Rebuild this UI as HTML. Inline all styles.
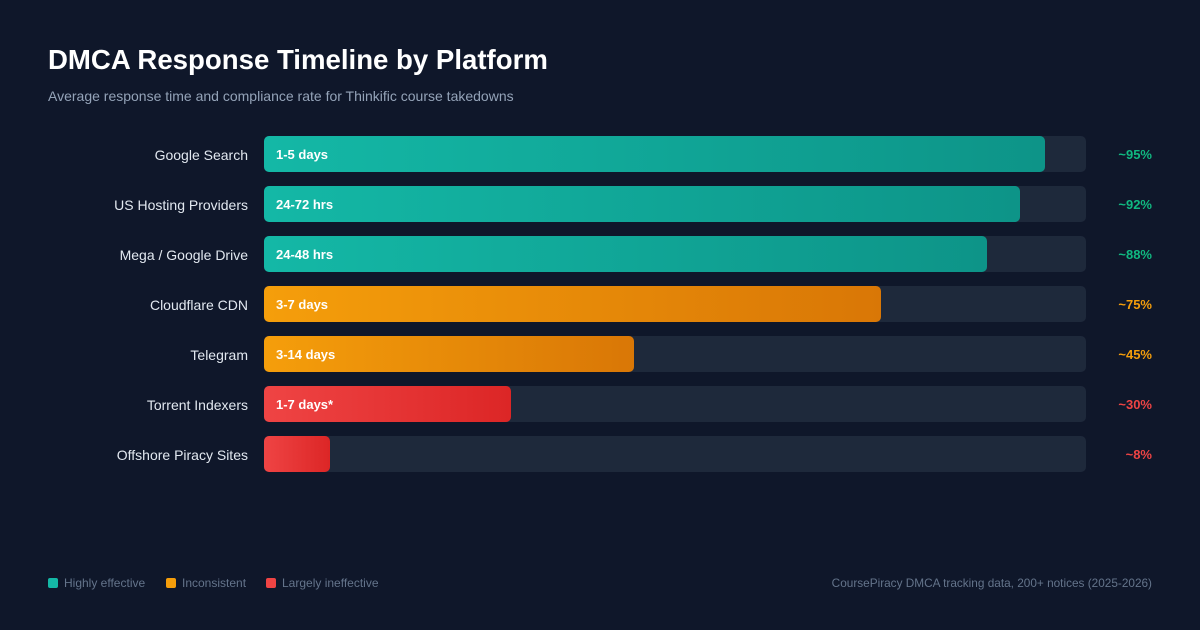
<!DOCTYPE html>
<html><head><meta charset="utf-8"><style>
body{margin:0;width:1200px;height:630px;background:#0f172a;font-family:"Liberation Sans",sans-serif;position:relative;overflow:hidden}
.t{position:absolute;left:48px;top:44px;font-size:27.6px;font-weight:bold;color:#fff}
.s{position:absolute;left:48px;top:88px;font-size:14px;color:#94a3b8}
.row{position:absolute;left:0;width:1200px;height:36px}
.lab{position:absolute;right:952px;top:1px;line-height:36px;font-size:14px;color:#e2e8f0;white-space:nowrap}
.trk{position:absolute;left:264px;width:822px;height:36px;background:#1e293b;border-radius:5px}
.bar{position:absolute;left:0;top:0;height:36px;border-radius:5px;color:#fff;font-weight:bold;font-size:13px;line-height:38px;padding-left:12px;box-sizing:border-box}
.g{background:linear-gradient(90deg,#14b8a6,#0d9488)}
.o{background:linear-gradient(90deg,#f59e0b,#d97706)}
.r{background:linear-gradient(90deg,#ef4444,#dc2626)}
.pct{position:absolute;right:48px;top:1px;line-height:36px;font-size:13px;font-weight:bold}
.leg{position:absolute;top:576px;font-size:12px;color:#64748b}
.leg i{display:inline-block;width:10px;height:10px;border-radius:2px;margin-right:6px;vertical-align:-1px}
</style></head><body>
<div class="t">DMCA Response Timeline by Platform</div>
<div class="s">Average response time and compliance rate for Thinkific course takedowns</div>

<div class="row" style="top:136px"><div class="lab">Google Search</div><div class="trk"><div class="bar g" style="width:781px">1-5 days</div></div><div class="pct" style="color:#10b981">~95%</div></div>
<div class="row" style="top:186px"><div class="lab">US Hosting Providers</div><div class="trk"><div class="bar g" style="width:756px">24-72 hrs</div></div><div class="pct" style="color:#10b981">~92%</div></div>
<div class="row" style="top:236px"><div class="lab">Mega / Google Drive</div><div class="trk"><div class="bar g" style="width:723px">24-48 hrs</div></div><div class="pct" style="color:#10b981">~88%</div></div>
<div class="row" style="top:286px"><div class="lab">Cloudflare CDN</div><div class="trk"><div class="bar o" style="width:617px">3-7 days</div></div><div class="pct" style="color:#f59e0b">~75%</div></div>
<div class="row" style="top:336px"><div class="lab">Telegram</div><div class="trk"><div class="bar o" style="width:370px">3-14 days</div></div><div class="pct" style="color:#f59e0b">~45%</div></div>
<div class="row" style="top:386px"><div class="lab">Torrent Indexers</div><div class="trk"><div class="bar r" style="width:247px">1-7 days*</div></div><div class="pct" style="color:#ef4444">~30%</div></div>
<div class="row" style="top:436px"><div class="lab">Offshore Piracy Sites</div><div class="trk"><div class="bar r" style="width:66px"></div></div><div class="pct" style="color:#ef4444">~8%</div></div>

<div class="leg" style="left:48px"><i style="background:#14b8a6"></i>Highly effective</div>
<div class="leg" style="left:166px"><i style="background:#f59e0b"></i>Inconsistent</div>
<div class="leg" style="left:266px"><i style="background:#ef4444"></i>Largely ineffective</div>
<div class="leg" style="right:48px;font-size:11.8px">CoursePiracy DMCA tracking data, 200+ notices (2025-2026)</div>
</body></html>
